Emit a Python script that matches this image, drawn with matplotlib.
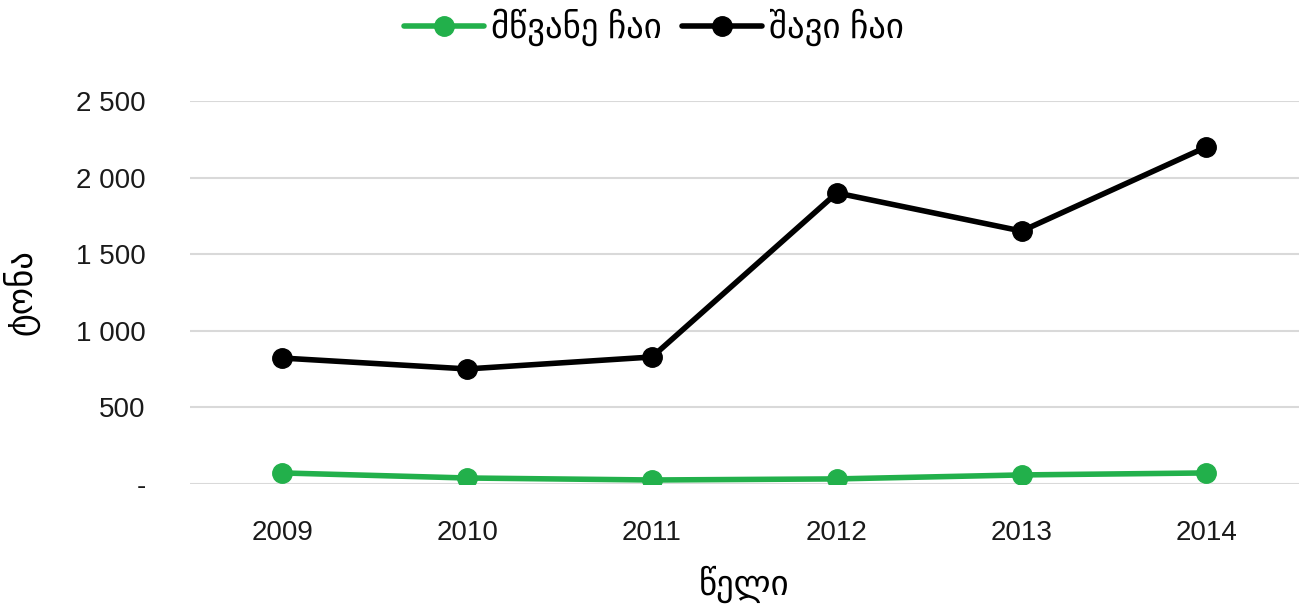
import numpy as np
import matplotlib.pyplot as plt

plt.rcParams['font.family'] = ['Liberation Sans', 'DejaVu Sans']

# data
years = ['2009', '2010', '2011', '2012', '2013', '2014']
green_tea = [72, 39, 26, 33, 59, 72]
black_tea = [822, 751, 829, 1900, 1651, 2200]
yticks = [0, 500, 1000, 1500, 2000, 2500]
ytick_labels = ['-', '500', '1 000', '1 500', '2 000', '2 500']

fig = plt.figure(figsize=(13.08, 6.10), dpi=100)
ax = fig.add_axes([0.1453, 0.2066, 0.8477, 0.6278])

x = np.arange(len(years))
ax.plot(x, green_tea, color='#22b04b', lw=4, marker='o', ms=14,
        label='მწვანე ჩაი', solid_capstyle='round')
ax.plot(x, black_tea, color='black', lw=4, marker='o', ms=14,
        label='შავი ჩაი', solid_capstyle='round')

ax.set_xlim(-0.5, len(years) - 0.5)
ax.set_ylim(0, 2500)
ax.set_xticks(x)
ax.set_xticklabels(years)
ax.set_yticks(yticks)
ax.set_yticklabels(ytick_labels)
ax.tick_params(axis='both', length=0, labelsize=20, colors='#1a1a1a')
ax.tick_params(axis='y', pad=32)
ax.tick_params(axis='x', pad=26)

ax.grid(axis='y', color='#d9d9d9', lw=1.5)
ax.set_axisbelow(True)
for s in ax.spines.values():
    s.set_visible(False)

ax.set_xlabel('წელი', fontsize=25, labelpad=14)
ax.set_ylabel('ტონა', fontsize=25, labelpad=26)

fig.legend(loc='upper center', bbox_to_anchor=(0.5, 1.037), ncol=2, frameon=False,
           fontsize=25, handlelength=2.3, columnspacing=0.6, handletextpad=0.2)

fig.savefig('out.png', dpi=100)
